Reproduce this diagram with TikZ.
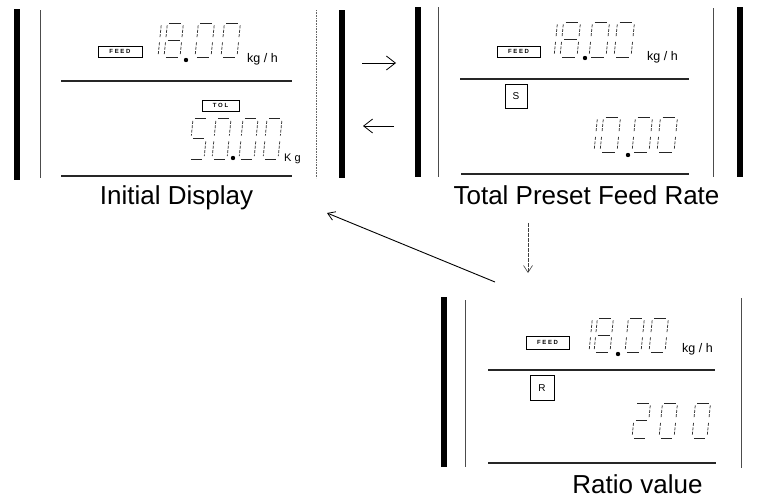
\documentclass[tikz,border=0pt]{standalone}
\usepackage{fontspec}
\setmainfont{Liberation Sans}
\usetikzlibrary{arrows.meta}
\newcommand\lcdsega{\draw[hseg] (0.12,1) -- (0.88,1);}
\newcommand\lcdsegb{\draw[vseg] (1,0.93) -- (1,0.57);}
\newcommand\lcdsegc{\draw[vseg] (1,0.43) -- (1,0.07);}
\newcommand\lcdsegd{\draw[hseg] (0.12,0) -- (0.88,0);}
\newcommand\lcdsege{\draw[vseg] (0,0.43) -- (0,0.07);}
\newcommand\lcdsegf{\draw[vseg] (0,0.93) -- (0,0.57);}
\newcommand\lcdsegg{\draw[hseg] (0.12,0.5) -- (0.88,0.5);}
% #1 x of bottom-left, #2 y of bottom (pixels), #3 width, #4 height, #5 segments
\newcommand{\lcddigit}[5]{%
  \begin{scope}[shift={(#1,#2)}, x=#3pt, y=#4pt, xslant=0.1]
    \foreach \s in {#5}{\csname lcdseg\s\endcsname}
  \end{scope}}
\begin{document}
\begin{tikzpicture}[x=1pt,y=-1pt,
  hseg/.style={line width=0.95pt, black!85},
  vseg/.style={line width=0.75pt, black!80, dash pattern=on 3pt off 1.4pt},
  thickbar/.style={line width=6pt, black},
  thinv/.style={line width=0.6pt, black!70},
  dottedv/.style={line width=0.6pt, black!60, dash pattern=on 1pt off 0.6pt},
  hline/.style={line width=1.1pt, black!85},
  lbl/.style={draw, line width=0.8pt, inner sep=0pt, font=\fontsize{6}{6}\selectfont\bfseries},
  letbox/.style={draw, line width=0.8pt, inner sep=0pt, font=\fontsize{10}{10}\selectfont},
  unittext/.style={inner sep=0pt, anchor=base west, font=\fontsize{12.5}{12.5}\selectfont},
  captext/.style={inner sep=0pt, anchor=base, font=\fontsize{26}{30}\selectfont},
  lcddot/.style={black},
  arr/.style={line width=0.8pt, -{Straight Barb[length=9pt,width=14pt,line width=0.8pt]}},
  arrthin/.style={line width=0.6pt, black!75, dash pattern=on 4pt off 1pt, -{Straight Barb[length=7pt,width=9pt,line width=0.6pt]}},
  arrdiag/.style={line width=0.9pt, -{Straight Barb[length=7pt,width=9pt,line width=0.8pt]}}
]
\useasboundingbox (0,0) rectangle (758,498);

% ---------- Panel 1: Initial Display ----------
\draw[thickbar] (16.5,9) -- (16.5,180);
\draw[thinv] (40,10) -- (40,178);
\draw[dottedv] (316,10) -- (316,178);
\draw[thickbar] (342,10) -- (342,178);
\draw[hline] (61,81) -- (292,81);
\draw[hline] (61,176) -- (292,176);
\node[lbl, minimum width=44pt, minimum height=11pt] (feedA) at (120,51.5) {F E E D};
\lcddigit{142}{57}{16}{34}{b,c}
\lcddigit{164}{57}{16}{34}{a,b,c,d,e,f,g}
\fill[lcddot] (186,60) circle (2.2pt);
\lcddigit{195}{57}{16}{34}{a,b,c,d,e,f}
\lcddigit{221}{57}{16}{34}{a,b,c,d,e,f}
\node[unittext] (unitA) at (247,62) {kg / h};
\node[lbl, minimum width=37pt, minimum height=11pt] (tolA) at (220.5,105.5) {T O L};
\lcddigit{189}{159}{15}{41}{a,f,g,c,d}
\lcddigit{212}{159}{15}{41}{a,b,c,d,e,f}
\fill[lcddot] (233,158) circle (2.2pt);
\lcddigit{239}{159}{15}{41}{a,b,c,d,e,f}
\lcddigit{263}{159}{15}{41}{a,b,c,d,e,f}
\node[unittext, font=\fontsize{11}{11}\selectfont] (unitB) at (284,161) {K g};
\node[captext] (capA) at (176.5,204) {Initial Display};

% ---------- Panel 2: Total Preset Feed Rate ----------
\draw[thickbar] (417.5,7) -- (417.5,177);
\draw[thinv] (438,7) -- (438,177);
\draw[thinv] (713,8) -- (713,177);
\draw[thickbar] (739.5,7) -- (739.5,177);
\draw[hline] (460,79) -- (689,79);
\draw[hline] (461,174) -- (689,174);
\node[lbl, minimum width=43pt, minimum height=11pt] (feedB) at (518.5,51.5) {F E E D};
\lcddigit{537}{57}{17}{35}{b,c}
\lcddigit{560}{57}{17}{35}{a,b,c,d,e,f,g}
\fill[lcddot] (585,58) circle (2.2pt);
\lcddigit{589}{57}{17}{35}{a,b,c,d,e,f}
\lcddigit{614}{57}{17}{35}{a,b,c,d,e,f}
\node[unittext] (unitC) at (647,60) {kg / h};
\node[letbox, minimum width=22pt, minimum height=24pt] (sbox) at (516,96) {S};
\lcddigit{577}{152}{17}{35}{b,c}
\lcddigit{600}{152}{17}{35}{a,b,c,d,e,f}
\fill[lcddot] (628,155) circle (2.2pt);
\lcddigit{632}{152}{17}{35}{a,b,c,d,e,f}
\lcddigit{657}{152}{17}{35}{a,b,c,d,e,f}
\node[captext] (capB) at (586.5,204) {Total Preset Feed Rate};

% ---------- Panel 3: Ratio value ----------
\draw[thickbar] (443.5,297) -- (443.5,467);
\draw[thinv] (465,300) -- (465,467);
\draw[thinv] (741,298) -- (741,468);
\draw[hline] (488,370) -- (715,370);
\draw[hline] (488,463) -- (716,463);
\node[lbl, minimum width=43pt, minimum height=13pt] (feedC) at (547.5,342.5) {F E E D};
\lcddigit{573}{352}{16}{34}{b,c}
\lcddigit{594}{352}{16}{34}{a,b,c,d,e,f,g}
\fill[lcddot] (618,354) circle (2.2pt);
\lcddigit{625}{352}{16}{34}{a,b,c,d,e,f}
\lcddigit{649}{352}{16}{34}{a,b,c,d,e,f}
\node[unittext] (unitD) at (682,352) {kg / h};
\node[letbox, minimum width=24pt, minimum height=25pt] (rbox) at (542,388) {R};
\lcddigit{632}{438}{15}{35}{a,b,g,e,d}
\lcddigit{659}{438}{15}{35}{a,b,c,d,e,f}
\lcddigit{692}{438}{15}{35}{a,b,c,d,e,f}
\node[captext] (capC) at (637.5,493) {Ratio value};

% ---------- Arrows ----------
\coordinate (fwdS) at (362,63);
\coordinate (fwdE) at (396,63);
\coordinate (backS) at (394,126);
\coordinate (backE) at (363,126);
\coordinate (downS) at (528,223);
\coordinate (downE) at (528,273);
\coordinate (diagS) at (495,282);
\coordinate (diagE) at (327,213);
\draw[arr] (fwdS) -- (fwdE);
\draw[arr] (backS) -- (backE);
\draw[arrthin] (downS) -- (downE);
\draw[arrdiag] (diagS) -- (diagE);
\end{tikzpicture}
\end{document}
